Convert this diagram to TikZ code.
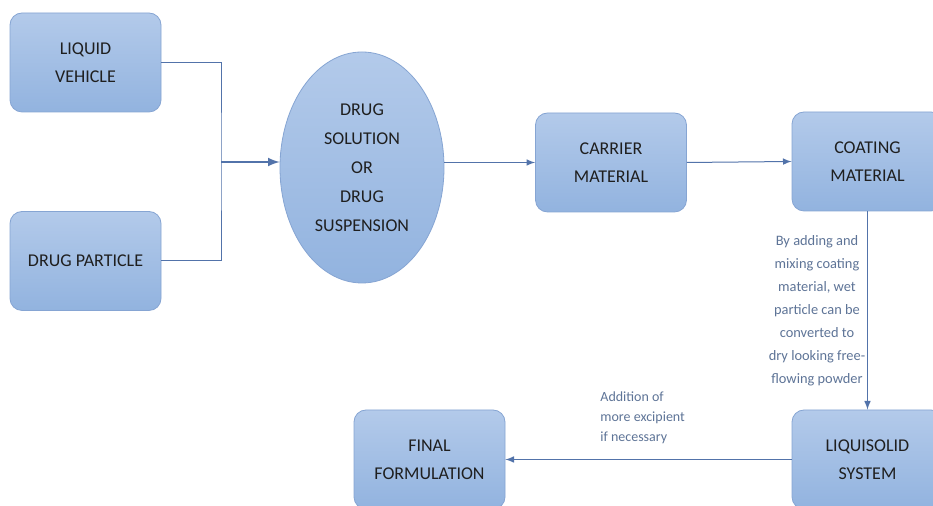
\documentclass[tikz,border=0pt]{standalone}
\usepackage{fontspec}
\setmainfont{Carlito}
\usetikzlibrary{shapes.geometric}
\definecolor{boxtop}{HTML}{B3CAEA}
\definecolor{boxbot}{HTML}{92B3DF}
\definecolor{boxrim}{HTML}{86A5D3}
\definecolor{linkc}{HTML}{5273AA}
\definecolor{notec}{HTML}{5E7497}
\begin{document}
\begin{tikzpicture}[x=0.5pt, y=-0.5pt, >=latex,
    blk/.style={rectangle, rounded corners=6pt, draw=boxrim, top color=boxtop, bottom color=boxbot,
      minimum width=75.5pt, minimum height=49.5pt, align=center,
      font=\fontsize{9}{14}\selectfont, text=black!88},
    ovl/.style={ellipse, draw=boxrim, top color=boxtop, bottom color=boxbot,
      minimum width=82pt, minimum height=115.5pt, inner sep=0pt, align=center,
      font=\fontsize{9}{14.5}\selectfont, text=black!88},
    link/.style={draw=linkc, line width=0.5pt},
    note/.style={text=notec, inner sep=0pt}]
  \useasboundingbox (0,0) rectangle (933,506);
  \fill[white] (0,0) rectangle (933,506);
  \clip (0,0) rectangle (933,506);
  % boxes, pixel coordinates of the sketch
  \node[blk] (veh) at (85.5,62.5) {LIQUID\\VEHICLE};
  \node[blk] (par) at (85.5,261) {DRUG PARTICLE};
  \node[ovl] (sol) at (362,167.5) {DRUG\\SOLUTION\\OR\\DRUG\\SUSPENSION};
  \node[blk] (car) at (611,162.5) {CARRIER\\MATERIAL};
  \node[blk] (coat) at (867.5,161.5) {COATING\\MATERIAL};
  \node[blk] (liq) at (867.5,459.5) {LIQUISOLID\\SYSTEM};
  \node[blk] (fin) at (429.5,459.5) {FINAL\\FORMULATION};
  \coordinate (junc) at (221,162);
  % connectors
  \draw[link] (veh.east) -| (junc) |- (par.east);
  \draw[link, line width=1pt, ->] (junc) -- (junc -| sol.west);
  \draw[link, ->] (sol.east |- car) -- (car.west);
  \draw[link, ->] (car.east) -- (coat.west);
  \draw[link, ->] (coat.south) -- (liq.north);
  \draw[link, ->] (liq.west) -- (fin.east);
  % notes
  \node[note, align=center, font=\fontsize{7.2}{11.5}\selectfont] (mix) at (817,311)
    {By adding and\\mixing coating\\material, wet\\particle can be\\converted to\\dry looking free-\\flowing powder};
  \node[note, align=left, anchor=west, font=\fontsize{7}{10}\selectfont] (exc) at (600,418)
    {Addition of\\more excipient\\if necessary};
\end{tikzpicture}
\end{document}
